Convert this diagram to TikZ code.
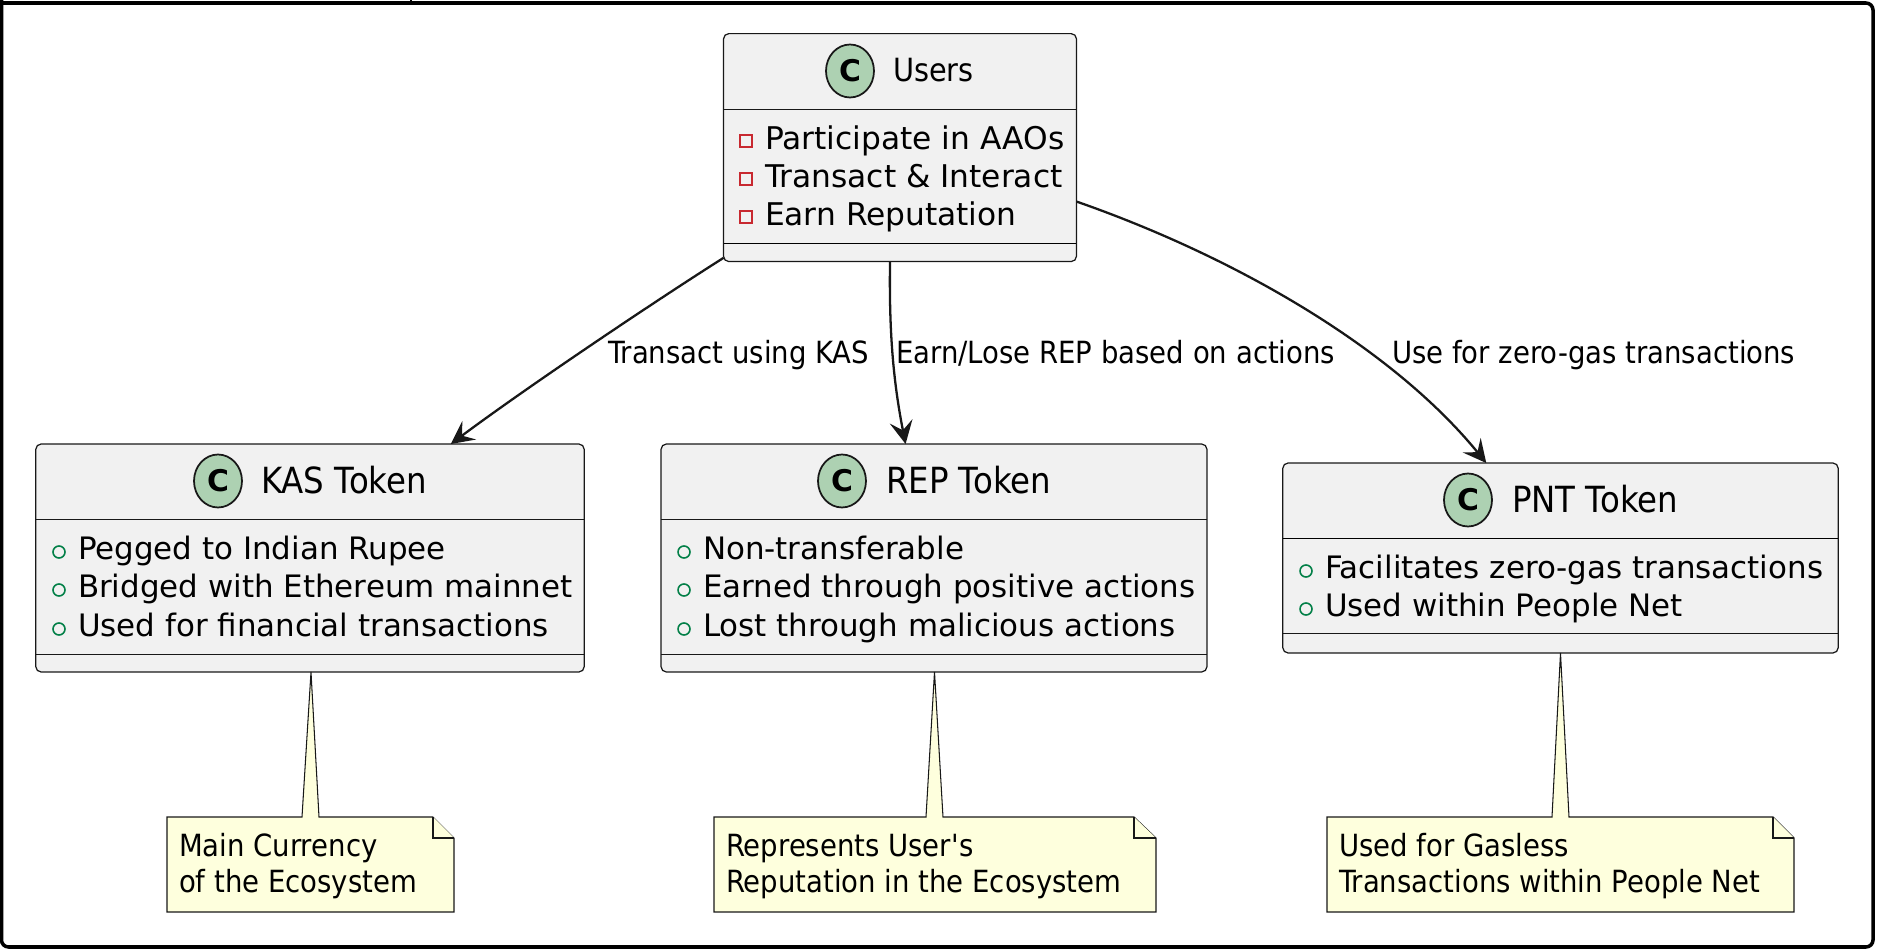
\documentclass[tikz,border=0pt]{standalone}
\usepackage{fontspec}
\setmainfont{DejaVu Sans}
\newfontfamily\tallfont[FakeStretch=0.9]{DejaVu Sans}
\usepackage{tikz}
\usetikzlibrary{arrows.meta,shapes.geometric}

\definecolor{boxgray}{HTML}{F1F1F1}
\definecolor{boxline}{HTML}{181818}
\definecolor{iconfill}{HTML}{ADD1B2}
\definecolor{notefill}{HTML}{FEFFDD}
\definecolor{privred}{HTML}{C82930}
\definecolor{pubgreen}{HTML}{038048}

\begin{document}
\begin{tikzpicture}[
  x=0.02cm, y=-0.02cm,
  every node/.style={inner sep=0pt, outer sep=0pt, text=black},
  classbox/.style={draw=boxline, fill=boxgray, rounded corners=3pt, line width=0.7pt},
  icon/.style={ellipse, draw=boxline, fill=iconfill, line width=1pt, minimum width=0.96cm, minimum height=1.06cm, font=\fontsize{17}{17}\selectfont\bfseries},
  title/.style={anchor=base west, font=\fontsize{20.5}{20.5}\tallfont},
  member/.style={anchor=base west, font=\fontsize{17.6}{17.6}\selectfont},
  edgetext/.style={anchor=base west, font=\fontsize{17.4}{17.4}\tallfont},
  notetext/.style={anchor=base west, font=\fontsize{17.4}{17.4}\tallfont},
  priv/.style={rectangle, draw=privred, line width=0.9pt, minimum size=0.25cm},
  pub/.style={circle, draw=pubgreen, line width=0.9pt, minimum size=0.24cm},
  sep/.style={line width=0.5pt, boxline},
  sepheavy/.style={line width=0.9pt, black},
  notebody/.style={draw=boxline, fill=notefill, line width=0.6pt, line join=miter},
  flow/.style={-{Stealth[length=0.46cm, width=0.46cm, inset=0.18cm]}, line width=1.3pt, boxline}
]
\useasboundingbox (0,0) rectangle (1881,949);
% Frame
\draw[black, line width=2pt] (1.5,0) [rounded corners=4pt] |- (1873,947) |- (0,3);
\draw[black, line width=1pt] (411,0) -- (411,3);
% Users
\node[classbox, minimum width=7.06cm, minimum height=4.56cm] (users) at (900,147.6) {};
\draw[sep] (users.west |- 0,109) -- (users.east |- 0,109);
\draw[sepheavy] (users.west |- 0,243.5) -- (users.east |- 0,243.5);
\node[icon] (usersicon) at (850,71) {C};
\node[title, font=\fontsize{18.2}{18.2}\tallfont] (userstitle) at (893,82) {Users};
\node[priv] (usersa) at (746,141) {};
\node[priv] (usersb) at (746,179) {};
\node[priv] (usersc) at (746,217) {};
\node[member, font=\fontsize{17.8}{17.8}\selectfont] at (765,149.5) {Participate in AAOs};
\node[member, font=\fontsize{17.8}{17.8}\selectfont] at (765,187.5) {Transact \& Interact};
\node[member, font=\fontsize{17.8}{17.8}\selectfont] at (765,225.5) {Earn Reputation};
% KAS
\node[classbox, minimum width=10.97cm, minimum height=4.56cm] (kas) at (310,558) {};
\draw[sep] (kas.west |- 0,519.5) -- (kas.east |- 0,519.5);
\draw[sep] (kas.west |- 0,654) -- (kas.east |- 0,654);
\node[icon] (kasicon) at (218,481) {C};
\node[title] (kastitle) at (261,494) {KAS Token};
\node[pub] (kasa) at (59,552) {};
\node[pub] (kasb) at (59,590) {};
\node[pub] (kasc) at (59,629) {};
\node[member] at (78,559.5) {Pegged to Indian Rupee};
\node[member] at (78,597.5) {Bridged with Ethereum mainnet};
\node[member] at (78,636.5) {Used for financial transactions};
% REP
\node[classbox, minimum width=10.92cm, minimum height=4.56cm] (rep) at (934,558) {};
\draw[sep] (rep.west |- 0,519.5) -- (rep.east |- 0,519.5);
\draw[sep] (rep.west |- 0,654) -- (rep.east |- 0,654);
\node[icon] (repicon) at (842,481) {C};
\node[title] (reptitle) at (886,494) {REP Token};
\node[pub] (repa) at (684,552) {};
\node[pub] (repb) at (684,590) {};
\node[pub] (repc) at (684,629) {};
\node[member] at (703,559.5) {Non-transferable};
\node[member] at (703,597.5) {Earned through positive actions};
\node[member] at (703,636.5) {Lost through malicious actions};
% PNT
\node[classbox, minimum width=11.11cm, minimum height=3.80cm] (pnt) at (1560.5,558) {};
\draw[sepheavy] (pnt.west |- 0,538.5) -- (pnt.east |- 0,538.5);
\draw[sep] (pnt.west |- 0,633.5) -- (pnt.east |- 0,633.5);
\node[icon] (pnticon) at (1468,500) {C};
\node[title] (pnttitle) at (1512,513) {PNT Token};
\node[pub] (pnta) at (1306,571) {};
\node[pub] (pntb) at (1306,609) {};
\node[member] at (1325,578.5) {Facilitates zero-gas transactions};
\node[member] at (1325,616.5) {Used within People Net};
% Notes
\draw[notebody] (167,817) -- (302,817) -- (311,672) -- (319,817) -- (433,817) -- (454,838) -- (454,912) -- (167,912) -- cycle;
\draw[notebody] (433,817) |- (454,838);
\node[notetext] (kasnote) at (179,856.5) {Main Currency};
\node[notetext] at (179,892.5) {of the Ecosystem};
\draw[notebody] (714,817) -- (926,817) -- (934.5,672) -- (943,817) -- (1134,817) -- (1156,838) -- (1156,912) -- (714,912) -- cycle;
\draw[notebody] (1134,817) |- (1156,838);
\node[notetext] (repnote) at (726,856.5) {Represents User\textquotesingle s};
\node[notetext] at (726,892.5) {Reputation in the Ecosystem};
\draw[notebody] (1327,817) -- (1552,817) -- (1560.5,653) -- (1569,817) -- (1773,817) -- (1794,838) -- (1794,912) -- (1327,912) -- cycle;
\draw[notebody] (1773,817) |- (1794,838);
\node[notetext] (pntnote) at (1339,856.5) {Used for Gasless};
\node[notetext] at (1339,892.5) {Transactions within People Net};
% Arrows
\draw[flow] (users.212) .. controls (660,298) and (530,385) .. (kas.39.2);
\draw[flow] (users.265) .. controls (889,330) and (893,380) .. (rep.104);
\draw[flow] (users.-17.4) .. controls (1230,255) and (1390,345) .. (pnt.128);
\node[edgetext] (kaslabel) at (608,364) {Transact using KAS};
\node[edgetext] (replabel) at (896,364) {Earn/Lose REP based on actions};
\node[edgetext] (pntlabel) at (1392,364) {Use for zero-gas transactions};
\end{tikzpicture}
\end{document}
